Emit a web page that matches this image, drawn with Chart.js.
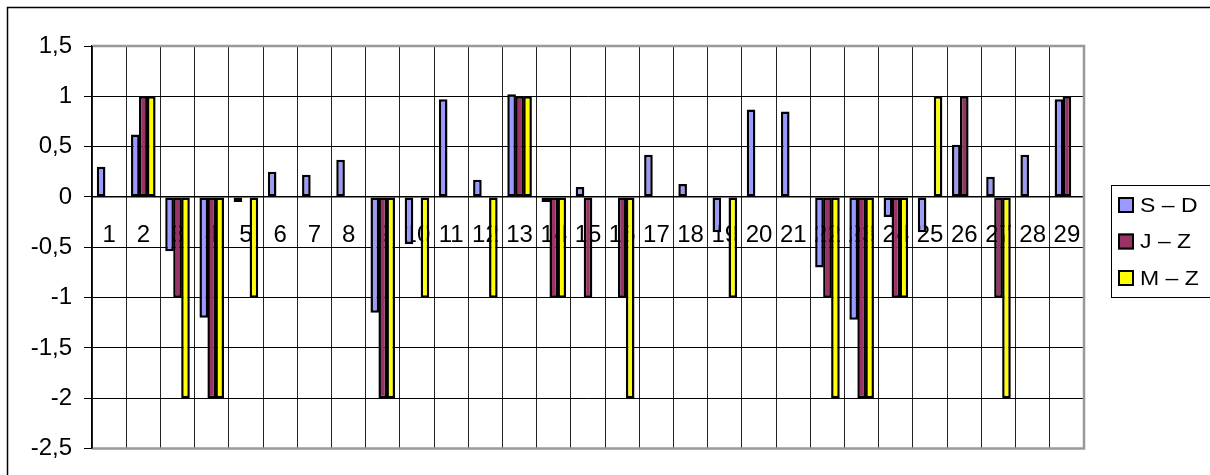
<!DOCTYPE html>
<html>
<head>
<meta charset="utf-8">
<script src="https://cdn.jsdelivr.net/npm/chart.js@4/dist/chart.umd.min.js"></script>
<style>
  html, body { margin: 0; padding: 0; background: #fff; }
  #wrap { width: 1210px; height: 475px; }
</style>
</head>
<body>
<div id="wrap"><canvas id="barChart" width="1210" height="475"></canvas></div>
<script>
// categories 1..29
const categories = ['1','2','3','4','5','6','7','8','9','10','11','12','13','14','15',
  '16','17','18','19','20','21','22','23','24','25','26','27','28','29'];

// series values (null = no bar)
const sdValues = [0.3, 0.62, -0.54, -1.2, -0.05, 0.25, 0.22, 0.37, -1.15, -0.47, 0.97, 0.17, 1.02, -0.05, 0.1,
  null, 0.42, 0.13, -0.35, 0.87, 0.85, -0.7, -1.22, -0.2, -0.35, 0.52, 0.2, 0.42, 0.97];
const jzValues = [null, 1, -1, -2, null, null, null, null, -2, null, null, null, 1, -1, -1,
  -1, null, null, null, null, null, -1, -2, -1, null, 1, -1, null, 1];
const mzValues = [null, 1, -2, -2, -1, null, null, null, -2, -1, null, -1, 1, -1, null,
  -2, null, null, -1, null, null, -2, -2, -1, 1, null, -2, null, null];

const seriesNames = ['S \u2013 D', 'J \u2013 Z', 'M \u2013 Z'];
const seriesColors = ['#9999FF', '#993366', '#FFFF00'];

const FONT = '"Liberation Sans", Arial, sans-serif';

// outer frame, plot border and legend box
const framePlugin = {
  id: 'frame',
  beforeDraw(chart) {
    const ctx = chart.ctx;
    ctx.save();
    ctx.fillStyle = '#fff';
    ctx.fillRect(0, 0, chart.width, chart.height);
    ctx.strokeStyle = '#000';
    ctx.lineWidth = 1.5;
    ctx.strokeRect(7.5, 7.5, 1400, 700);
    ctx.restore();
  },
  beforeDatasetsDraw(chart) {
    const { ctx, chartArea: a } = chart;
    ctx.save();
    ctx.strokeStyle = '#999';
    ctx.lineWidth = 2.5;
    ctx.beginPath();
    ctx.moveTo(a.left, a.top);
    ctx.lineTo(a.right, a.top);
    ctx.lineTo(a.right, a.bottom);
    ctx.lineTo(a.left, a.bottom);
    ctx.stroke();
    ctx.strokeStyle = '#000';
    ctx.lineWidth = 1.5;
    ctx.beginPath();
    ctx.moveTo(a.left, a.top);
    ctx.lineTo(a.left, a.bottom);
    ctx.stroke();
    ctx.restore();
  },
  afterDraw(chart) {
    const ctx = chart.ctx;
    ctx.save();
    ctx.strokeStyle = '#000';
    ctx.lineWidth = 1;
    ctx.strokeRect(1111.5, 185.5, 120, 112);
    ctx.textBaseline = 'middle';
    chart.data.datasets.forEach((ds, i) => {
      const y = 205 + i * 36.5;
      ctx.fillStyle = ds.backgroundColor;
      ctx.fillRect(1118, y - 8, 16, 16);
      ctx.lineWidth = 2;
      ctx.strokeRect(1119, y - 7, 14, 14);
      ctx.fillStyle = '#000';
      // text in the picture is a little wider than tall
      ctx.save();
      ctx.translate(1140, y + 1);
      ctx.scale(1.15, 1);
      ctx.font = '20px ' + FONT;
      ctx.fillText(ds.label, 0, 0);
      ctx.restore();
    });
    ctx.restore();
  }
};

new Chart(document.getElementById('barChart'), {
  type: 'bar',
  data: {
    labels: categories,
    datasets: [
      { label: seriesNames[0], data: sdValues, backgroundColor: seriesColors[0] },
      { label: seriesNames[1], data: jzValues, backgroundColor: seriesColors[1] },
      { label: seriesNames[2], data: mzValues, backgroundColor: seriesColors[2] }
    ]
  },
  options: {
    responsive: false,
    animation: false,
    layout: { padding: { left: 0, top: 46, right: 126, bottom: 24 } },
    datasets: {
      bar: {
        borderColor: '#000',
        borderWidth: 2.5,
        borderSkipped: false,
        categoryPercentage: 0.7,
        barPercentage: 1.08
      }
    },
    plugins: {
      legend: { display: false },
      tooltip: { enabled: false }
    },
    scales: {
      x: {
        position: { y: 0 },
        grid: { color: '#222', lineWidth: 1, drawTicks: false, offset: true },
        border: { display: true, color: '#000', width: 1.5 },
        ticks: {
          color: '#000',
          font: { family: FONT, size: 24 },
          padding: 24,
          autoSkip: false,
          maxRotation: 0
        }
      },
      y: {
        min: -2.5,
        max: 1.5,
        afterFit(scale) { scale.width = 92; },
        grid: { color: '#000', lineWidth: 1, tickLength: 8 },
        border: { display: true, color: '#000', width: 1.5 },
        ticks: {
          stepSize: 0.5,
          color: '#000',
          padding: 12,
          font: { family: FONT, size: 24 },
          callback: v => String(v).replace('.', ',')
        }
      }
    }
  },
  plugins: [framePlugin]
});
</script>
</body>
</html>
